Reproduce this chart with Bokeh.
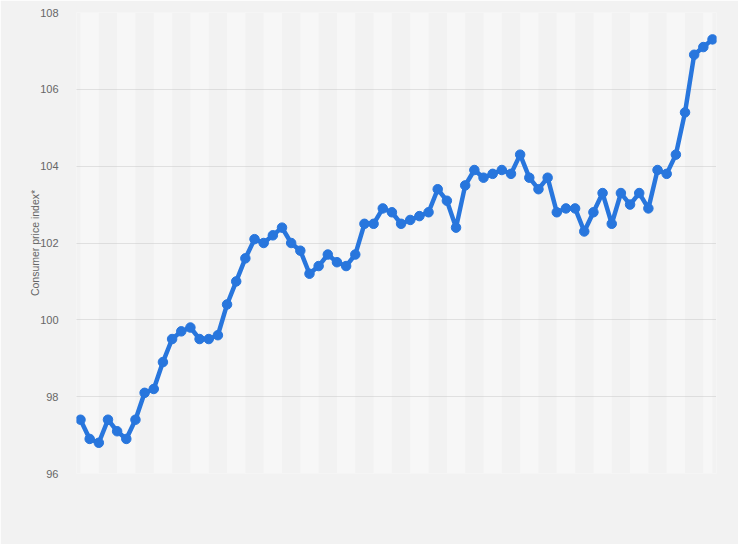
from bokeh.plotting import figure
from bokeh.models import FixedTicker, ColumnDataSource
from bokeh.embed import file_html
from bokeh.resources import INLINE

cpi = [97.4, 96.9, 96.8, 97.4, 97.1, 96.9, 97.4, 98.1, 98.2, 98.9,
       99.5, 99.7, 99.8, 99.5, 99.5, 99.6, 100.4, 101.0, 101.6, 102.1,
       102.0, 102.2, 102.4, 102.0, 101.8, 101.2, 101.4, 101.7, 101.5, 101.4,
       101.7, 102.5, 102.5, 102.9, 102.8, 102.5, 102.6, 102.7, 102.8, 103.4,
       103.1, 102.4, 103.5, 103.9, 103.7, 103.8, 103.9, 103.8, 104.3, 103.7,
       103.4, 103.7, 102.8, 102.9, 102.9, 102.3, 102.8, 103.3, 102.5, 103.3,
       103.0, 103.3, 102.9, 103.9, 103.8, 104.3, 105.4, 106.9, 107.1, 107.3]
period = list(range(len(cpi)))
y_ticks = [96, 98, 100, 102, 104, 106, 108]
y_label = "Consumer price index*"

BG = "#f2f2f2"
BAND = "#f7f7f7"
BLUE = "#2876dd"

n = len(cpi)
pad = 0.437
p = figure(width=738, height=544, output_backend="svg", toolbar_location=None,
           x_range=(-pad, n - 1 + pad), y_range=(y_ticks[0], y_ticks[-1]),
           min_border_left=76, min_border_right=22, min_border_top=12,
           min_border_bottom=71)
p.background_fill_color = BG
p.border_fill_color = BG
p.outline_line_color = None

# alternating vertical bands
band_left = [period[i] for i in range(0, n - 1, 4)]
band_right = [period[min(i + 2, n - 1)] for i in range(0, n - 1, 4)]
p.quad(left=band_left, right=band_right, bottom=y_ticks[0], top=y_ticks[-1],
       fill_color=BAND, line_color=None, level="underlay")

src = ColumnDataSource(dict(x=period, y=cpi))
p.line("x", "y", source=src, line_color=BLUE, line_width=4.5, line_join="round")
p.scatter("x", "y", source=src, size=9.5, fill_color=BLUE, line_color=BLUE)

p.xaxis.visible = False
p.xgrid.visible = False
p.ygrid.ticker = FixedTicker(ticks=y_ticks)
p.ygrid.grid_line_color = "#c8c8c8"
p.ygrid.grid_line_dash = "1 1"
p.ygrid.grid_line_width = 1

ya = p.yaxis[0]
ya.ticker = FixedTicker(ticks=y_ticks)
ya.axis_line_color = None
ya.major_tick_line_color = None
ya.minor_tick_line_color = None
ya.major_label_text_color = "#666666"
ya.major_label_text_font = "Liberation Sans"
ya.major_label_text_font_size = "11px"
ya.major_label_standoff = 12
ya.axis_label = y_label
ya.axis_label_text_color = "#666666"
ya.axis_label_text_font = "Liberation Sans"
ya.axis_label_text_font_size = "10.5px"
ya.axis_label_text_font_style = "normal"
ya.axis_label_standoff = -4

html = file_html(p, INLINE)
html = html.replace("<body>", '<body style="background:%s">' % BG, 1)
open("out.html", "w").write(html)
